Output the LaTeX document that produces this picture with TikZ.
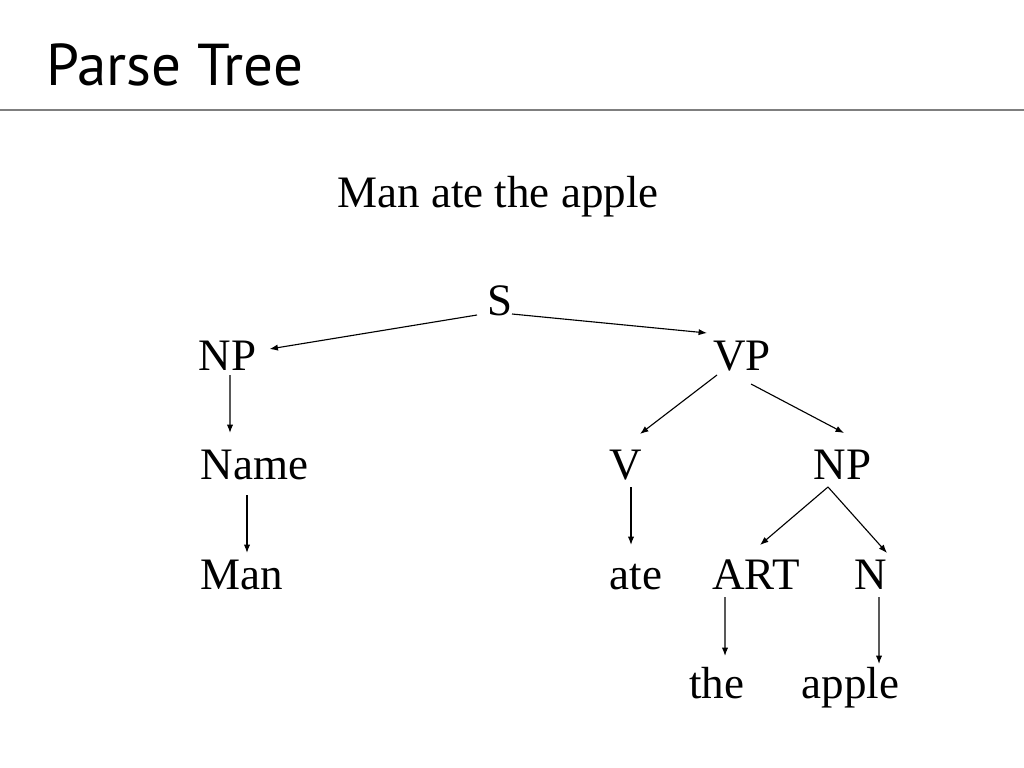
\documentclass[tikz,border=0pt]{standalone}
\usepackage{fontspec}
\setmainfont{Liberation Serif}
\newfontfamily\titlefont{PT Sans}
\usetikzlibrary{arrows.meta}
\definecolor{ptrule}{HTML}{7F7F7F}

\begin{document}
\begin{tikzpicture}[x=0.025cm, y=-0.025cm,
      word/.style={font=\fontsize{32}{38}\selectfont, inner sep=0pt, anchor=base},
      ttl/.style={font=\titlefont\fontsize{42}{50}\selectfont, inner sep=0pt, anchor=base west},
      edge/.style={line width=0.8pt, -{Latex[length=6pt,width=4.5pt]}}]
      \useasboundingbox (0,0) rectangle (1024,768);

      \node[ttl] (title) at (46,86) {Parse Tree};
      \draw[ptrule, line width=1.4pt] (0,110) -- (1024,110);
      \node[word] (sent) at (498,207) {Man ate the apple};

      % tree
      \node[word] (s) at (500,315) {S};
      \node[word] (np1) at (227.5,370) {NP};
      \node[word] (vp) at (742,370) {VP};
      \node[word] (name) at (254.5,479) {Name};
      \node[word] (v) at (626,479) {V};
      \node[word] (np2) at (842.5,479) {NP};
      \node[word] (man) at (242,589) {Man};
      \node[word] (ate) at (636,589) {ate};
      \node[word] (art) at (756,589) {ART};
      \node[word] (n) at (871,589) {N};
      \node[word] (the) at (716.5,698) {the};
      \node[word] (apple) at (850.5,698) {apple};

      \draw[edge] ([shift={(-23,0)}]s.base) -- ([shift={(42,-21)}]np1.base);
      \draw[edge] ([shift={(12,-1)}]s.base) -- ([shift={(-35,-37)}]vp.base);
      \draw[edge] ([shift={(2.5,5)}]np1.base) -- ([shift={(-24.5,-46)}]name.base);
      \draw[edge] ([shift={(-7.5,16)}]name.base) -- ([shift={(5,-36)}]man.base);
      \draw[edge] ([shift={(-25,5)}]vp.base) -- ([shift={(14,-45)}]v.base);
      \draw[edge] ([shift={(9,14)}]vp.base) -- ([shift={(1.5,-46)}]np2.base);
      \draw[edge] ([shift={(5,8)}]v.base) -- ([shift={(-5,-44)}]ate.base);
      \draw[edge] ([shift={(-14.5,8)}]np2.base) -- ([shift={(4,-44)}]art.base);
      \draw[edge] ([shift={(-14.5,8)}]np2.base) -- ([shift={(16,-36)}]n.base);
      \draw[edge] ([shift={(-31,8)}]art.base) -- ([shift={(8.5,-42)}]the.base);
      \draw[edge] ([shift={(8,8)}]n.base) -- ([shift={(28.5,-34)}]apple.base);
\end{tikzpicture}
\end{document}
